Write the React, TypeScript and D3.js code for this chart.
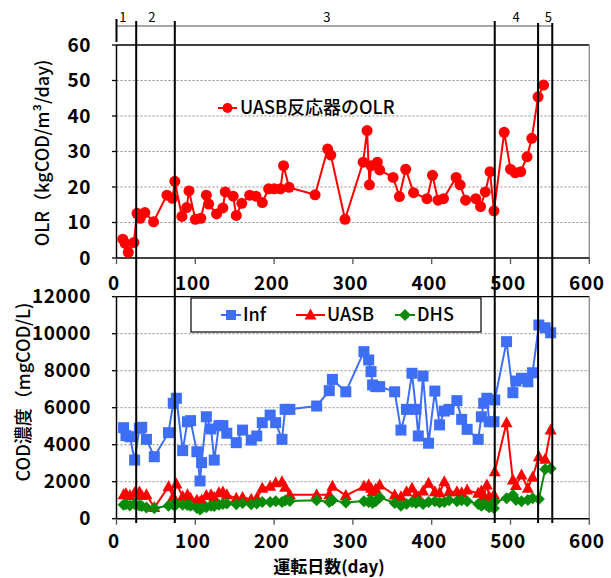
import React from "react";
import * as d3 from "d3";

// ---- data ----
const olrDays = [8, 11, 15, 22, 26, 30, 36, 47, 64, 71, 74, 83, 89, 92, 100, 107, 114, 117, 127, 135, 138, 148, 152, 159, 169, 177, 185, 193, 200, 208, 212, 219, 252, 268, 272, 290, 313, 318, 321, 323, 331, 334, 351, 359, 367, 377, 394, 401, 408, 415, 431, 436, 443, 456, 462, 468, 474, 479, 492, 500, 506, 513, 521, 527, 535, 542];
const olrValues = [5.3, 4.1, 1.6, 4.4, 12.6, 11.2, 12.8, 10.2, 17.7, 16.8, 21.6, 11.7, 14.2, 18.9, 10.9, 11.2, 17.7, 15.2, 12.4, 14.1, 18.6, 17.4, 12.0, 15.4, 17.7, 17.4, 15.6, 19.5, 19.5, 19.5, 26.0, 19.9, 17.8, 30.7, 29.0, 10.9, 27.0, 35.9, 20.6, 26.0, 27.0, 24.8, 22.7, 17.3, 25.0, 18.4, 16.7, 23.3, 16.3, 16.7, 22.7, 20.6, 16.3, 16.7, 14.5, 18.6, 24.3, 13.3, 35.4, 25.0, 24.0, 24.3, 28.5, 33.7, 45.4, 48.7];

const codDays = [9, 12, 17, 23, 29, 32, 38, 48, 66, 72, 76, 84, 90, 94, 102, 106, 108, 114, 120, 124, 130, 135, 140, 152, 160, 171, 178, 185, 195, 202, 210, 214, 220, 254, 270, 274, 291, 314, 320, 323, 325, 329, 334, 353, 361, 368, 375, 380, 383, 389, 396, 404, 410, 416, 422, 432, 438, 445, 459, 463, 466, 470, 473, 479, 480, 495, 503, 507, 514, 522, 528, 536, 544, 551];
const infValues = [4920, 4490, 4430, 3170, 4890, 4940, 4290, 3350, 4650, 6240, 6510, 3680, 5240, 5300, 3620, 2040, 3030, 5510, 4850, 3170, 5030, 5030, 4620, 4110, 4790, 4250, 4470, 5190, 5600, 5190, 4290, 5910, 5910, 6090, 6920, 7530, 6860, 9030, 8580, 7950, 7230, 7140, 7140, 6860, 4790, 5910, 7860, 5910, 4470, 7710, 4080, 6900, 5070, 5820, 5910, 6380, 5370, 4830, 4290, 5510, 6240, 6510, 5240, 5240, 6420, 9570, 6810, 7440, 7590, 7400, 7890, 10470, 10320, 10050];
const uasbValues = [1300, 1350, 1250, 1400, 1450, 1250, 1300, 600, 1730, 1190, 1880, 1200, 1300, 1100, 1000, 900, 1000, 1250, 1300, 1150, 1400, 1450, 1300, 1100, 1150, 1050, 1100, 1650, 1750, 1950, 2000, 1700, 1300, 1300, 1300, 1750, 1250, 1750, 1820, 1640, 1460, 1600, 1820, 1280, 1190, 1460, 1640, 1280, 1190, 1500, 1910, 1460, 1400, 2000, 1460, 1460, 1400, 1550, 1370, 1500, 1200, 1820, 1190, 1300, 2540, 5190, 2090, 1800, 2360, 1640, 2240, 3350, 3210, 4790];
const dhsValues = [750, 780, 720, 800, 720, 680, 600, 560, 700, 760, 780, 760, 740, 700, 580, 500, 560, 620, 700, 680, 760, 800, 820, 780, 850, 780, 820, 900, 900, 950, 900, 980, 960, 1000, 900, 1000, 880, 950, 900, 1000, 850, 950, 1150, 850, 700, 800, 900, 850, 950, 800, 900, 950, 880, 900, 1000, 950, 1000, 950, 800, 700, 800, 720, 620, 560, 920, 1100, 1280, 1010, 950, 1010, 1100, 1060, 2670, 2720];

const periodBoundaries = [25, 74, 480, 535, 553];
const periodLabels = ["1", "2", "3", "4", "5"];
const periodLabelDays = [8, 45, 267, 507, 548];

const xTicks = [0, 100, 200, 300, 400, 500, 600];
const olrTicks = [0, 10, 20, 30, 40, 50, 60];
const codTicks = [0, 2000, 4000, 6000, 8000, 10000, 12000];

// ---- layout ----
const W = 611;
const H = 578;
const FONT = "'Noto Sans CJK JP', 'Noto Sans', sans-serif";
const RED = "#ff0000";
const BLUE = "#3d6ef5";
const GREEN = "#0a8a0a";

const x = d3.scaleLinear().domain([0, 600]).range([116.5, 589.3]);
const yTop = d3.scaleLinear().domain([0, 60]).range([258, 45]);
const yBot = d3.scaleLinear().domain([0, 12000]).range([518.7, 296.7]);

const olrPts = olrDays.map((d, i) => [d, olrValues[i]] as [number, number]);
const infPts = codDays.map((d, i) => [d, infValues[i]] as [number, number]);
const uasbPts = codDays.map((d, i) => [d, uasbValues[i]] as [number, number]);
const dhsPts = codDays.map((d, i) => [d, dhsValues[i]] as [number, number]);

const lineTop = d3.line<[number, number]>().x((p) => x(p[0])).y((p) => yTop(p[1]));
const lineBot = d3.line<[number, number]>().x((p) => x(p[0])).y((p) => yBot(p[1]));

const triPath = "M0,-6.5L6,4.5L-6,4.5Z";
const diaPath = "M0,-6L6,0L0,6L-6,0Z";

const tickStyle = { fontSize: 19, fontWeight: 600, fontFamily: FONT, letterSpacing: 0.6 } as const;

function Square({ cx, cy, s = 11, fill }: { cx: number; cy: number; s?: number; fill: string }) {
  return <rect x={cx - s / 2} y={cy - s / 2} width={s} height={s} fill={fill} />;
}

function Panel({ y, ticks }: { y: d3.ScaleLinear<number, number>; ticks: number[] }) {
  const [y0, y1] = y.range();
  const x0 = x(0);
  const x1 = x(600);
  return (
    <g>
      {ticks.slice(1, -1).map((t) => (
        <line key={"g" + t} x1={x0} x2={x1} y1={y(t)} y2={y(t)} stroke="#8a8a8a" strokeWidth={1} strokeDasharray="2,2" />
      ))}
      <line x1={x0} x2={x1} y1={y1} y2={y1} stroke="#000" strokeWidth={1.3} />
      <line x1={x1} x2={x1} y1={y1} y2={y0} stroke="#888" strokeWidth={1.3} />
      <line x1={x0} x2={x0} y1={y1} y2={y0} stroke="#000" strokeWidth={1.5} />
      <line x1={x0} x2={x1} y1={y0} y2={y0} stroke="#000" strokeWidth={1.5} />
      {ticks.map((t) => (
        <g key={"t" + t}>
          <line x1={x0 - 4.5} x2={x0} y1={y(t)} y2={y(t)} stroke="#000" strokeWidth={1.3} />
          <text x={91} y={y(t)} dy="0.35em" textAnchor="end" {...tickStyle} fill="#000">
            {String(t)}
          </text>
        </g>
      ))}
      {xTicks.map((t) => (
        <line key={"x" + t} x1={x(t)} x2={x(t)} y1={y0} y2={y0 + 6} stroke="#555" strokeWidth={1.3} />
      ))}
    </g>
  );
}

export default function App() {
  return (
    <svg width={W} height={H} style={{ display: "block", position: "absolute", left: 0, top: 0, background: "#fff" }}>
      <rect width={W} height={H} fill="#fff" />
      {/* period header */}
      <line x1={x(0)} x2={x(553)} y1={26} y2={26} stroke="#888" strokeWidth={1.3} />
      <line x1={x(0)} x2={x(0)} y1={19} y2={42} stroke="#000" strokeWidth={2} />
      {periodLabels.map((l, i) => (
        <text key={l} x={x(periodLabelDays[i])} y={22} textAnchor="middle" fontSize={13} fontFamily={FONT} fill="#000">
          {l}
        </text>
      ))}

      {/* top panel */}
      <Panel y={yTop} ticks={olrTicks} />
      {xTicks.map((t) => (
        <text key={"xl1" + t} x={x(t) - 2.5} y={283} dy="0.35em" textAnchor="middle" {...tickStyle} fill="#000">
          {t}
        </text>
      ))}
      <path d={lineTop(olrPts) || ""} fill="none" stroke={RED} strokeWidth={2} />
      {olrPts.map((p, i) => (
        <circle key={"o" + i} cx={x(p[0])} cy={yTop(p[1])} r={5.5} fill={RED} />
      ))}
      {/* top legend */}
      <line x1={218} x2={237} y1={108} y2={108} stroke={RED} strokeWidth={2} />
      <circle cx={227.5} cy={108} r={5} fill={RED} />
      <text x={240} y={108} dy="0.36em" fontSize={18} fontWeight={500} fontFamily={FONT} fill="#000">
        UASB反応器のOLR
      </text>

      {/* bottom panel */}
      <Panel y={yBot} ticks={codTicks} />
      {xTicks.map((t) => (
        <text key={"xl2" + t} x={x(t) - 2.5} y={541} dy="0.35em" textAnchor="middle" {...tickStyle} fill="#000">
          {t}
        </text>
      ))}
      <path d={lineBot(infPts) || ""} fill="none" stroke={BLUE} strokeWidth={2} />
      {infPts.map((p, i) => (
        <Square key={"i" + i} cx={x(p[0])} cy={yBot(p[1])} fill={BLUE} />
      ))}
      <path d={lineBot(uasbPts) || ""} fill="none" stroke={RED} strokeWidth={2} />
      {uasbPts.map((p, i) => (
        <path key={"u" + i} d={triPath} transform={`translate(${x(p[0])},${yBot(p[1])})`} fill={RED} />
      ))}
      <path d={lineBot(dhsPts) || ""} fill="none" stroke={GREEN} strokeWidth={2} />
      {dhsPts.map((p, i) => (
        <path key={"d" + i} d={diaPath} transform={`translate(${x(p[0])},${yBot(p[1])})`} fill={GREEN} />
      ))}

      {/* bottom legend */}
      <rect x={191} y={298} width={290} height={34} fill="#fff" stroke="#000" strokeWidth={1.2} />
      <line x1={221} x2={241} y1={315} y2={315} stroke={BLUE} strokeWidth={2} />
      <Square cx={231} cy={315} s={10} fill={BLUE} />
      <text x={243} y={315} dy="0.36em" fontSize={18} fontWeight={500} fontFamily={FONT} fill="#000">Inf</text>
      <line x1={296} x2={325} y1={315} y2={315} stroke={RED} strokeWidth={2} />
      <path d={triPath} transform="translate(310.5,315)" fill={RED} />
      <text x={327} y={315} dy="0.36em" fontSize={18} fontWeight={500} fontFamily={FONT} fill="#000">UASB</text>
      <line x1={395} x2={415} y1={315} y2={315} stroke={GREEN} strokeWidth={2} />
      <path d={diaPath} transform="translate(405,315)" fill={GREEN} />
      <text x={417} y={315} dy="0.36em" fontSize={18} fontWeight={500} fontFamily={FONT} fill="#000">DHS</text>

      {/* period boundary lines */}
      {periodBoundaries.map((b, i) => (
        <line key={"p" + i} x1={x(b)} x2={x(b)} y1={i >= 3 ? 23 : 21} y2={523} stroke="#000" strokeWidth={2} />
      ))}

      {/* axis titles */}
      <text transform="translate(43,153) rotate(-90)" dy="0.35em" textAnchor="middle" fontSize={18} fontWeight={500} fontFamily={FONT} fill="#000">
        OLR（kgCOD/m³/day)
      </text>
      <text transform="translate(24,392) rotate(-90)" dy="0.35em" textAnchor="middle" fontSize={18} fontWeight={500} fontFamily={FONT} fill="#000">
        COD濃度（mgCOD/L)
      </text>
      <text x={329} y={567} dy="0.35em" textAnchor="middle" fontSize={17} fontWeight={700} fontFamily={FONT} fill="#000">
        運転日数(day)
      </text>
    </svg>
  );
}
